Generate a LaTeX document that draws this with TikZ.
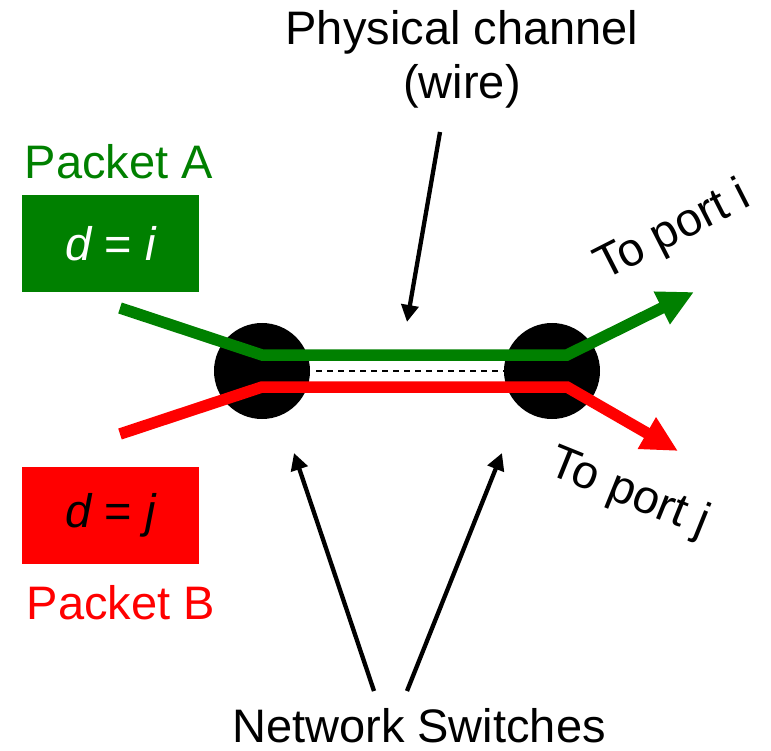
\documentclass[tikz,border=0pt]{standalone}
\usepackage{fontspec}
\setmainfont{Liberation Sans}
\usetikzlibrary{arrows.meta}
\definecolor{pgreen}{RGB}{0,128,0}
\definecolor{pred}{RGB}{255,0,0}
\begin{document}
\begin{tikzpicture}[x=1pt,y=-1pt,
  lbl/.style={font=\fontsize{47pt}{54pt}\selectfont, inner sep=0pt},
  switchnode/.style={circle, fill=black, minimum size=96pt, inner sep=0pt},
  pktbox/.style={minimum width=177pt, minimum height=97pt, inner sep=0pt},
  route/.style={line width=11.5pt, -{Triangle[length=36pt,width=34pt]}},
  pointer/.style={line width=4.3pt, -{Triangle[length=17pt,width=17pt]}}]
\useasboundingbox (0,0) rectangle (771,751);
% switches
\node[switchnode] (swL) at (262,371) {};
\node[switchnode] (swR) at (552,371) {};
% wire (dashed)
\draw[line width=1.8pt, dash pattern=on 6pt off 5pt] ([xshift=6pt]swL.east) -- (swR.west);
% packet boxes
\node[pktbox, fill=pgreen, text=white, lbl] (boxA) at (110.5,243.5) {{\itshape d} = {\itshape i}};
\node[pktbox, fill=pred, text=black, lbl] (boxB) at (110.5,515.5) {{\itshape d} = {\itshape j}};
\node[lbl, text=pgreen, anchor=base] (pA) at (119,179) {Packet A};
\node[lbl, text=pred, anchor=base] (pB) at (121,619) {Packet B};
% routes
\coordinate (gS) at (120,308);
\coordinate (gL) at (262,355);
\coordinate (gR) at (567,355);
\coordinate (gT) at (694,292);
\coordinate (rS) at (120,434);
\coordinate (rL) at (262,387);
\coordinate (rR) at (567,387);
\coordinate (rT) at (678,451);
\draw[route, pgreen] (gS) -- (gL) -- (gR) -- (gT);
\draw[route, pred] (rS) -- (rL) -- (rR) -- (rT);
% port labels
\node[lbl, rotate=27] (toi) at (673,232) {To port i};
\node[lbl, rotate=-22] (toj) at (629,494) {To port j};
% physical channel label
\node[lbl, align=center, anchor=base] (phys) at (462,99) {Physical channel\\(wire)};
\coordinate (physS) at (440,132);
\coordinate (wireT) at (407,322);
\draw[pointer] (physS) -- (wireT);
% network switches label
\node[lbl, anchor=base] (nsw) at (419,742) {Network Switches};
\coordinate (nsL) at (374,691);
\coordinate (nsR) at (407,691);
\coordinate (swLT) at (294,453);
\coordinate (swRT) at (502,453);
\draw[pointer] (nsL) -- (swLT);
\draw[pointer] (nsR) -- (swRT);
\end{tikzpicture}
\end{document}
